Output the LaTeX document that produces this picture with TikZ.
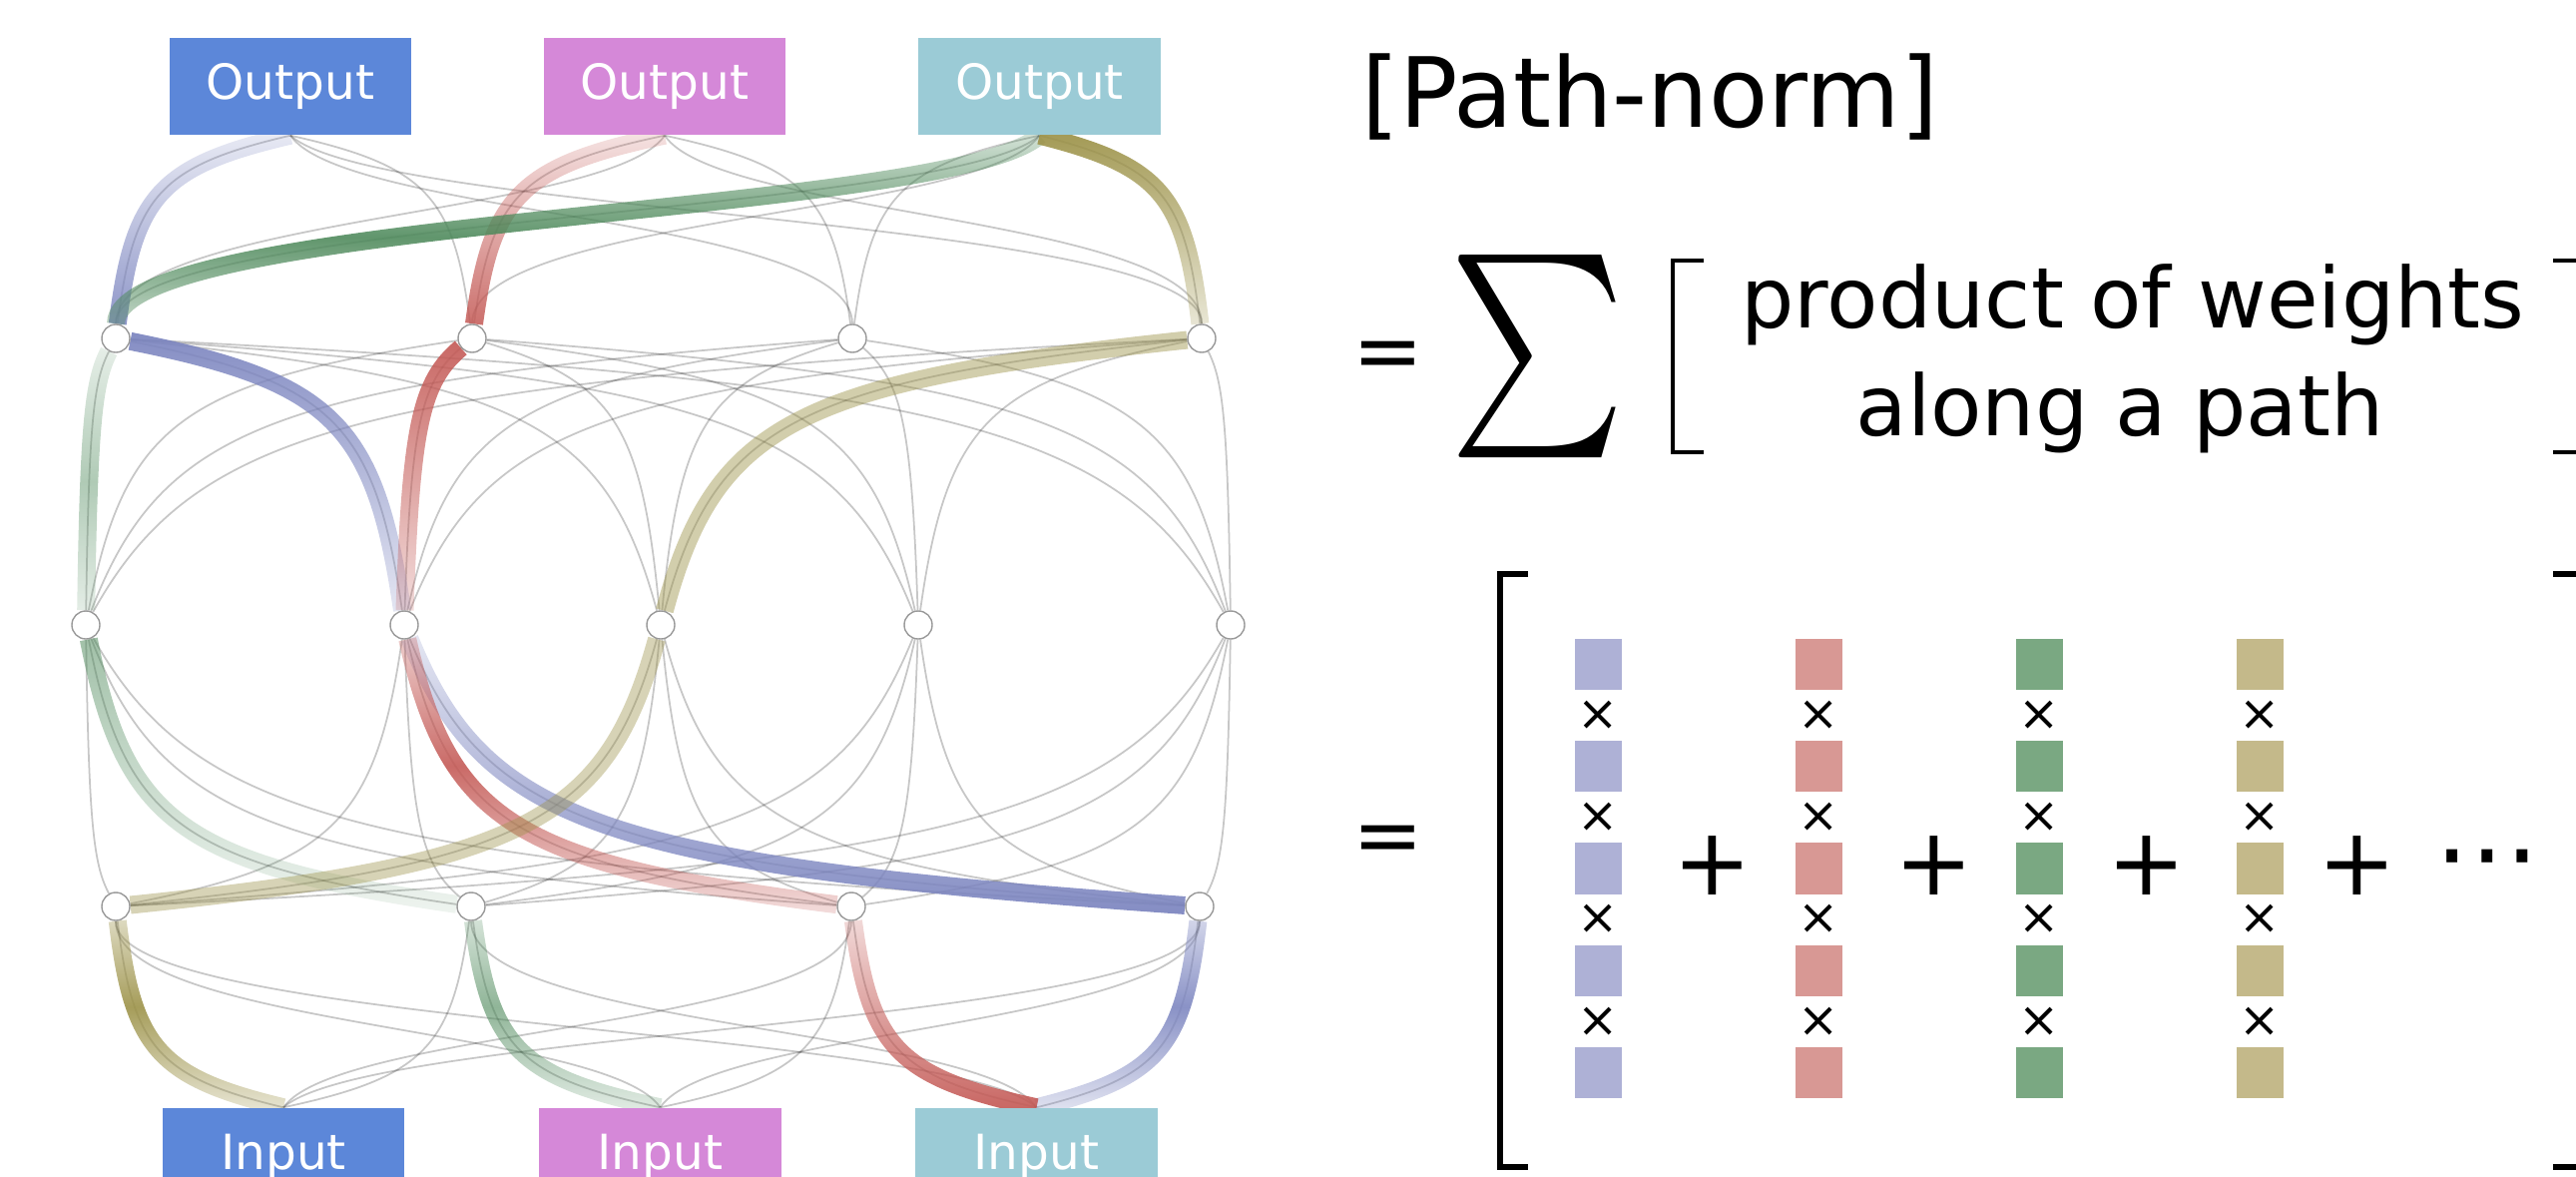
\documentclass[tikz,border=0pt]{standalone}
\usepackage{fontspec}
\setmainfont{DejaVu Sans}
\usepackage{graphicx}
\usetikzlibrary{calc,fadings}

\definecolor{boxblue}{HTML}{5C87D9}
\definecolor{boxpink}{HTML}{D588D8}
\definecolor{boxcyan}{HTML}{9BCBD6}
\definecolor{pathblue}{HTML}{7D86C0}
\definecolor{pathred}{HTML}{C45A56}
\definecolor{pathgreen}{HTML}{4F8A5C}
\definecolor{pathgold}{HTML}{9C9248}
\definecolor{tileblue}{HTML}{AEB1D6}
\definecolor{tilered}{HTML}{D89894}
\definecolor{tilegreen}{HTML}{7AA882}
\definecolor{tilegold}{HTML}{C4B98A}

\tikzfading[name=LightTop, top color=transparent!85, bottom color=transparent!5]
\tikzfading[name=LightBottom, top color=transparent!5, bottom color=transparent!85]
\tikzfading[name=DarkMiddle, top color=transparent!80, bottom color=transparent!80, middle color=transparent!10]

\tikzstyle{Unit}=[circle, minimum size=0.28cm, inner sep=0pt, fill=white, draw=black!40, line width=0.4pt]
\tikzstyle{Port}=[rectangle, minimum width=2.42cm, minimum height=0.97cm, inner sep=0pt, text=white, font=\fontsize{13.8}{16}\selectfont]
\tikzstyle{Link}=[draw=black, draw opacity=0.22, line width=0.5pt]
\tikzstyle{Route}=[line width=0.18cm]
\tikzstyle{Tile}=[rectangle, minimum width=0.47cm, minimum height=0.51cm, inner sep=0pt]
\tikzstyle{Times}=[inner sep=0pt, font=\fontsize{14}{16}\selectfont]
\tikzstyle{Plus}=[inner sep=0pt, font=\fontsize{26.7}{30}\selectfont]
\tikzstyle{Thin}=[line width=0.045cm]
\tikzstyle{Thick}=[line width=0.065cm]
% curve that leaves the outer end flat and meets the inner end upright;
% the trailing moves only widen the box that a fading is fitted to
\tikzstyle{Wire}=[to path={let \p1=(\tikztostart), \p2=(\tikztotarget) in
  .. controls ({\x1+0.75*(\x2-\x1)}, {\y1+0.15*(\y2-\y1)}) and ({\x2-0.1*(\x2-\x1)}, {\y2-0.7*(\y2-\y1)}) .. (\tikztotarget)
  ({\x1-12pt}, \y1) ({\x1+12pt}, \y1) ({\x2-12pt}, \y2) ({\x2+12pt}, \y2)}]
% s-shaped curve for the far box links
\tikzstyle{Swoop}=[to path={let \p1=(\tikztostart), \p2=(\tikztotarget) in
  .. controls ({\x1+0.1*(\x2-\x1)}, {\y1+0.4*(\y2-\y1)}) and (\x2, {\y2-0.6*(\y2-\y1)}) .. (\tikztotarget)
  ({\x1-12pt}, \y1) ({\x1+12pt}, \y1) ({\x2-12pt}, \y2) ({\x2+12pt}, \y2)}]

\pgfdeclarelayer{edgelayer}
\pgfdeclarelayer{nodelayer}
\pgfsetlayers{edgelayer, nodelayer, main}

\begin{document}
\begin{tikzpicture}[x=0.01cm, y=-0.01cm]
	\useasboundingbox (0,0) rectangle (2581,1179);
	\begin{pgfonlayer}{nodelayer}
		\node [style=Port, fill=boxblue] (outA) at (291, 86.5) {Output};
		\node [style=Port, fill=boxpink] (outB) at (666, 86.5) {Output};
		\node [style=Port, fill=boxcyan] (outC) at (1041.5, 86.5) {Output};
		\node [style=Port, fill=boxblue] (inA) at (284, 1158.5) {Input};
		\node [style=Port, fill=boxpink] (inB) at (661.5, 1158.5) {Input};
		\node [style=Port, fill=boxcyan] (inC) at (1038.5, 1158.5) {Input};

		\foreach \n/\x in {a/116, b/473, c/854, d/1204}
			\node [style=Unit] (h1\n) at (\x, 339) {};
		\foreach \n/\x in {a/86, b/405, c/662, d/920, e/1233}
			\node [style=Unit] (h2\n) at (\x, 626) {};
		\foreach \n/\x in {a/116, b/472, c/853, d/1202}
			\node [style=Unit] (h3\n) at (\x, 908) {};
	\end{pgfonlayer}
	\begin{pgfonlayer}{edgelayer}
		% all weights
		\foreach \o/\h in {A/a, A/b, B/b, B/c, C/c, C/d}
			\draw [style=Link] (out\o.south) to [style=Wire] (h1\h);
		\foreach \o/\h in {A/c, A/d, B/a, B/d, C/a, C/b}
			\draw [style=Link] (out\o.south) to [style=Swoop] (h1\h);
		\foreach \u in {a, b, c, d}
			\foreach \v in {a, b, c, d, e}
			{
				\draw [style=Link] (h1\u) to [style=Wire] (h2\v);
				\draw [style=Link] (h3\u) to [style=Wire] (h2\v);
			}
		\foreach \i/\h in {A/a, A/b, B/b, B/c, C/c, C/d}
			\draw [style=Link] (in\i.north) to [style=Wire] (h3\h);
		\foreach \i/\h in {A/c, A/d, B/a, B/d, C/a, C/b}
			\draw [style=Link] (in\i.north) to [style=Swoop] (h3\h);

		% four highlighted paths
		\draw [style=Route, draw=pathblue, path fading=LightTop] (outA.south) to [style=Wire] (h1a);
		\draw [style=Route, draw=pathblue, path fading=LightBottom] (h1a) to [style=Wire] (h2b);
		\draw [style=Route, draw=pathblue, path fading=LightTop] (h3d) to [style=Wire] (h2b);
		\draw [style=Route, draw=pathblue, path fading=DarkMiddle] (inC.north) to [style=Wire] (h3d);

		\draw [style=Route, draw=pathred, path fading=LightTop] (outB.south) to [style=Wire] (h1b);
		\draw [style=Route, draw=pathred, path fading=LightBottom] (h1b) to [style=Wire] (h2b);
		\draw [style=Route, draw=pathred, path fading=DarkMiddle] (h3c) to [style=Wire] (h2b);
		\draw [style=Route, draw=pathred, path fading=LightTop] (inC.north) to [style=Wire] (h3c);

		\draw [style=Route, draw=pathgreen, path fading=DarkMiddle] (outC.south) to [style=Swoop] (h1a);
		\draw [style=Route, draw=pathgreen, path fading=DarkMiddle, opacity=0.5] (h1a) to [style=Wire] (h2a);
		\draw [style=Route, draw=pathgreen, path fading=LightBottom, opacity=0.6] (h3b) to [style=Wire] (h2a);
		\draw [style=Route, draw=pathgreen, path fading=DarkMiddle, opacity=0.7] (inB.north) to [style=Wire] (h3b);

		\draw [style=Route, draw=pathgold, path fading=LightBottom] (outC.south) to [style=Wire] (h1d);
		\draw [style=Route, draw=pathgold, opacity=0.45] (h1d) to [style=Wire] (h2c);
		\draw [style=Route, draw=pathgold, opacity=0.4] (h3a) to [style=Wire] (h2c);
		\draw [style=Route, draw=pathgold, path fading=DarkMiddle] (inA.north) to [style=Wire] (h3a);
	\end{pgfonlayer}

	% path-norm formula
	\node [anchor=base west, font=\fontsize{27.6}{33}\selectfont] (title) at (1352, 128) {[Path-norm]};
	\node [font=\fontsize{24}{29}\selectfont, inner sep=0pt] (eqA) at (1391, 361) {=};
	\node [inner sep=0pt] (sum) at (1541, 357.5) {\resizebox*{1.76cm}{2.03cm}{$\sum$}};
	\node [anchor=base, font=\fontsize{23.9}{29}\selectfont] (termA) at (2137, 329) {product of weights};
	\node [anchor=base, font=\fontsize{23.9}{29}\selectfont] (termB) at (2124, 436) {along a path};
	\draw [style=Thin] (1707, 261) -| (1676, 453) -- (1707, 453);
	\draw [style=Thin] (2558, 261) -| (2592, 453) -- (2558, 453);

	\node [font=\fontsize{24}{29}\selectfont, inner sep=0pt] (eqB) at (1391, 846) {=};
	\draw [style=Thick] (1531, 575) -| (1503, 1169) -- (1531, 1169);
	\draw [style=Thick] (2558, 575) -| (2592, 1169) -- (2558, 1169);
	\foreach \c/\col in {0/tileblue, 1/tilered, 2/tilegreen, 3/tilegold}
	{
		\foreach \r in {0, ..., 4}
			\node [style=Tile, fill=\col] (t\c\r) at ({1601+221*\c}, {665.5+102.25*\r}) {};
		\foreach \r in {0, ..., 3}
			\node [style=Times] (x\c\r) at ({1601+221*\c}, {716.6+102.25*\r}) {×};
	}
	\foreach \px [count=\k] in {1716, 1938, 2151, 2362}
		\node [style=Plus] (plus\k) at (\px, 867) {+};
	\node [font=\fontsize{30}{32}\selectfont, inner sep=0pt] (dots) at (2492, 871) {⋯};
\end{tikzpicture}
\end{document}
